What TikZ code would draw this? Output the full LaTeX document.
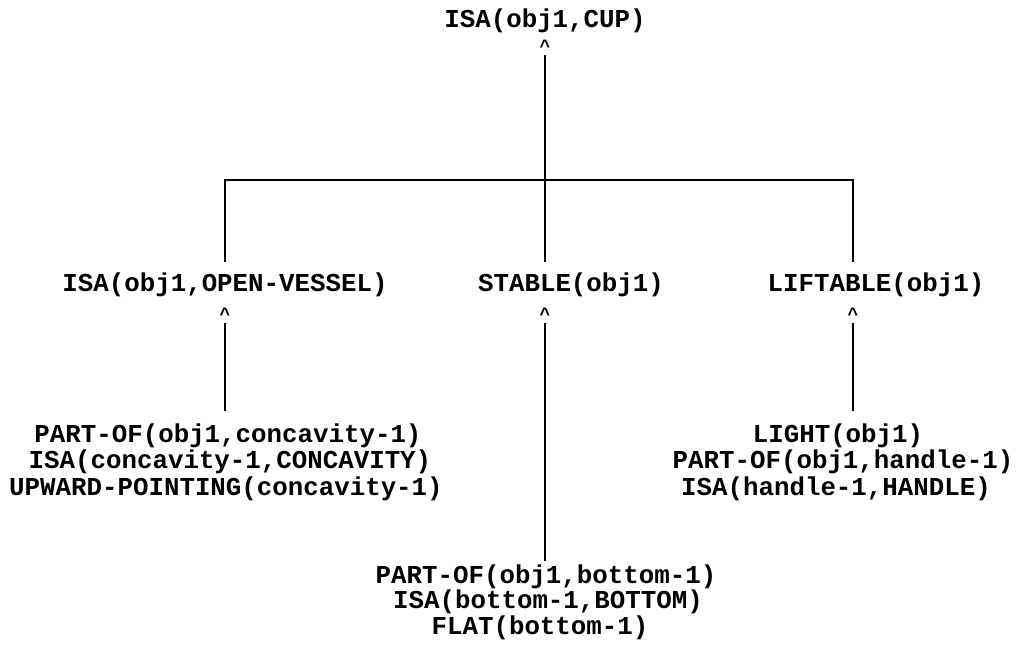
\documentclass[tikz,border=0pt]{standalone}
\usepackage{fontspec}
\newfontfamily\monofnt{Liberation Mono}
\tikzset{
  lbl/.style={font=\fontsize{25.8}{26.5}\selectfont\monofnt\bfseries, inner sep=0pt, anchor=base},
  crt/.style={font=\fontsize{18}{18}\selectfont\monofnt\bfseries, inner sep=0pt, anchor=base},
  ln/.style={line width=2.9pt, line join=miter, line cap=butt}
}
\begin{document}
\begin{tikzpicture}[x=1pt,y=-1pt]
\useasboundingbox (0,0) rectangle (1016,650);
% top
\node[lbl] (top) at (545,28) {ISA(obj1,CUP)};
\node[crt] (c0) at (545,53) {\textasciicircum};
% level 2
\node[lbl] (l2a) at (225,291) {ISA(obj1,OPEN-VESSEL)};
\node[lbl] (l2b) at (571,291) {STABLE(obj1)};
\node[lbl] (l2c) at (876,291) {LIFTABLE(obj1)};
\node[crt] (ca) at (225,320) {\textasciicircum};
\node[crt] (cb) at (545,320) {\textasciicircum};
\node[crt] (cc) at (853,320) {\textasciicircum};
% left block
\node[lbl] (a1) at (228,442) {PART-OF(obj1,concavity-1)};
\node[lbl] (a2) at (230,468) {ISA(concavity-1,CONCAVITY)};
\node[lbl] (a3) at (226,495) {UPWARD-POINTING(concavity-1)};
% right block
\node[lbl] (r1) at (838,442) {LIGHT(obj1)};
\node[lbl] (r2) at (843,468) {PART-OF(obj1,handle-1)};
\node[lbl] (r3) at (836,495) {ISA(handle-1,HANDLE)};
% bottom block
\node[lbl] (b1) at (546,583) {PART-OF(obj1,bottom-1)};
\node[lbl] (b2) at (548,608) {ISA(bottom-1,BOTTOM)};
\node[lbl] (b3) at (540,634) {FLAT(bottom-1)};
% junction
\coordinate (jl) at (225,180);
\coordinate (jr) at (853,180);
% connectors
\draw[ln, shorten <=2pt, shorten >=10pt] (c0.south) -- (c0.south |- l2b.north);
\draw[ln, shorten <=10pt, shorten >=10pt] (jl |- l2a.north) -- (jl) -- (jr) -- (jr |- l2c.north);
\draw[ln, shorten <=3pt, shorten >=12pt] (ca.south) -- (ca.south |- a1.north);
\draw[ln, shorten <=3pt, shorten >=12pt] (cc.south) -- (cc.south |- r1.north);
\draw[ln, shorten <=3pt, shorten >=3pt] (cb.south) -- (cb.south |- b1.north);
\end{tikzpicture}
\end{document}
